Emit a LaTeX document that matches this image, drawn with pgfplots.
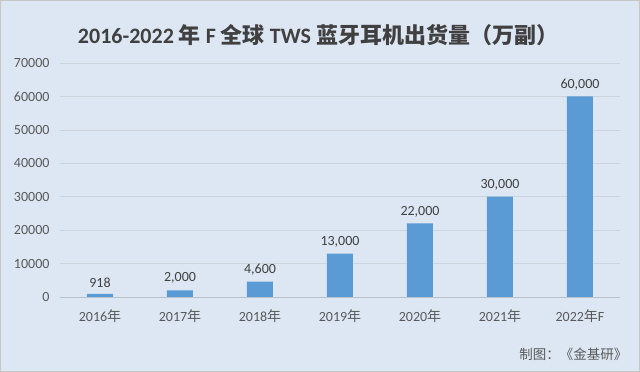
\documentclass[border=0pt]{standalone}
\usepackage{pgfplots}
\pgfplotsset{compat=1.18}
\usepackage{fontspec}
\setmainfont{Carlito}
\newfontfamily\cjk{Noto Sans CJK SC}
\definecolor{bgc}{HTML}{DDE7F3}
\definecolor{barc}{HTML}{5B9BD5}
\definecolor{gridc}{HTML}{CDD4DC}
\definecolor{zeroc}{HTML}{B8C0CA}
\definecolor{tickc}{HTML}{595959}
\definecolor{titlec}{HTML}{404040}
\begin{document}
\begin{tikzpicture}[x=1pt,y=1pt]
\fill[bgc] (0,0) rectangle (640,372);
\draw[gray!45] (0.5,0.5) rectangle (639.5,371.5);
\node[font=\bfseries\fontsize{22}{26}\selectfont, text=titlec] at (318,337)
  {2016-2022 {\cjk\bfseries 年} F {\cjk\bfseries 全球} TWS {\cjk\bfseries 蓝牙耳机出货量（万副）}};
\node[anchor=east, font=\cjk\fontsize{13.5}{16}\selectfont, text=tickc] at (631,18) {制图：《金基研》};
\begin{axis}[
  at={(60pt,75pt)}, anchor=south west,
  scale only axis, width=560pt, height=234pt,
  xmin=-0.5, xmax=6.5, ymin=0, ymax=70000,
  ytick={0,10000,...,70000},
  xtick={0,...,6},
  xticklabels={{2016{\cjk 年}},{2017{\cjk 年}},{2018{\cjk 年}},{2019{\cjk 年}},{2020{\cjk 年}},{2021{\cjk 年}},{2022{\cjk 年}F}},
  /pgf/number format/assume math mode=true,
  /pgf/number format/1000 sep={},
  scaled y ticks=false,
  ymajorgrids, grid style={draw=gridc, line width=0.7pt},
  axis x line*=bottom, axis y line*=left,
  x axis line style={draw=zeroc, line width=0.8pt, -},
  y axis line style={draw=none},
  major tick length=0pt,
  tick label style={font=\fontsize{14}{16}\selectfont, text=tickc},
  yticklabel style={xshift=-7pt},
  xticklabel style={yshift=-9pt},
  ybar, bar width=26pt,
  nodes near coords,
  point meta=explicit symbolic,
  every node near coord/.append style={font=\fontsize{14}{16}\selectfont, text=titlec, yshift=3pt},
]
\addplot[fill=barc, draw=none] coordinates {
  (0,918) [918]
  (1,2000) [{2,000}]
  (2,4600) [{4,600}]
  (3,13000) [{13,000}]
  (4,22000) [{22,000}]
  (5,30000) [{30,000}]
  (6,60000) [{60,000}]
};
\end{axis}
\end{tikzpicture}
\end{document}
